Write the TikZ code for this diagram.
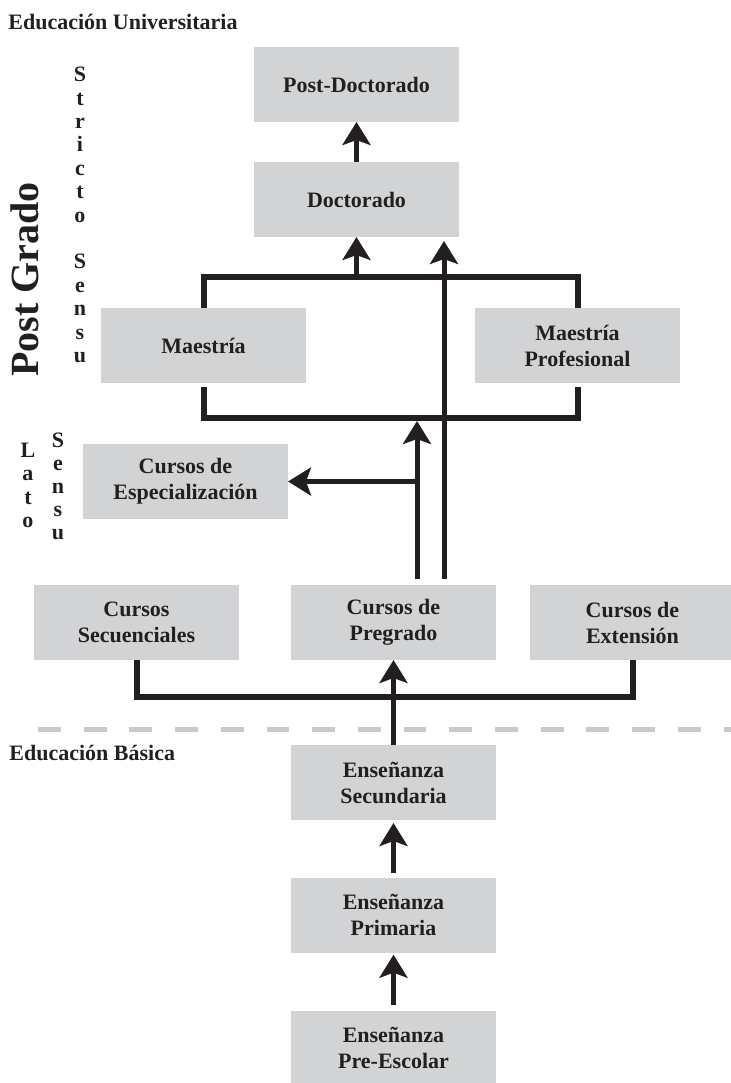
\documentclass[tikz,border=0pt]{standalone}
\usepackage{fontspec}
\setmainfont{Liberation Serif}
\usetikzlibrary{arrows.meta}
\definecolor{eduInk}{HTML}{231F20}
\definecolor{eduBox}{HTML}{D1D3D4}
\definecolor{eduDash}{HTML}{C9CACC}
\tikzset{
  edu box/.style={fill=eduBox, text=eduInk, minimum width=102.5pt, minimum height=37.5pt, inner sep=0pt, outer sep=0pt, align=center, font=\fontsize{11}{13}\selectfont\bfseries},
  edu label/.style={text=eduInk, inner sep=0pt, anchor=base west, font=\fontsize{11}{13}\selectfont\bfseries},
  edu letter/.style={text=eduInk, inner sep=0pt, anchor=base, font=\fontsize{11}{13}\selectfont\bfseries},
  edu arrow/.style={draw=eduInk, line width=2.5pt, -{Stealth[length=11.5pt, width=14pt, inset=2.5pt]}},
  edu bracket/.style={draw=eduInk, line width=3pt},
  edu split/.style={draw=eduDash, line width=2.85pt, dash pattern=on 11.4pt off 11.45pt},
}

\begin{document}
\begin{tikzpicture}[x=0.5pt, y=-0.5pt]
  \useasboundingbox (0,0) rectangle (730,1083);

  % Educacion Universitaria: side labels
  \node[edu label] (univ) at (8,29.3) {Educación Universitaria};
  \node[edu letter, font=\fontsize{20}{24}\selectfont\bfseries, rotate=90] (postgrado) at (39,279.5) {Post Grado};
  \foreach \ch [count=\k from 0] in {S,t,r,i,c,t,o} {
    \node[edu letter] (stricto\k) at (80,81.7+23.4*\k) {\ch};
  }
  \foreach \ch [count=\k from 8] in {S,e,n,s,u} {
    \node[edu letter] (ssensu\k) at (80,81.7+23.4*\k) {\ch};
  }
  \foreach \ch [count=\k from 0] in {L,a,t,o} {
    \node[edu letter] (lato\k) at (28,457+23.6*\k) {\ch};
  }
  \foreach \ch [count=\k from 0] in {S,e,n,s,u} {
    \node[edu letter] (lsensu\k) at (58,447+23*\k) {\ch};
  }

  % Post grado boxes
  \node[edu box] (postdoc) at (356.5,84.5) {Post-Doctorado};
  \node[edu box] (doct) at (356.5,199.5) {Doctorado};
  \node[edu box] (maest) at (203.5,345.5) {Maestría};
  \node[edu box] (maestprof) at (577.5,345.5) {Maestría\\Profesional};
  \node[edu box] (espec) at (185.5,481.5) {Cursos de\\Especialización};

  % Grado boxes
  \node[edu box] (secuen) at (136.5,622.5) {Cursos\\Secuenciales};
  \node[edu box] (pregr) at (393.5,622.5) {Cursos de\\Pregrado};
  \node[edu box] (exten) at (632.5,622.5) {Cursos de\\Extensión};

  % Educacion Basica
  \draw[edu split] (38,729.5) -- (745,729.5);
  \node[edu label] (basica) at (9,760) {Educación Básica};
  \node[edu box] (secund) at (393.5,782.5) {Enseñanza\\Secundaria};
  \node[edu box] (prim) at (393.5,915.2) {Enseñanza\\Primaria};
  \node[edu box] (preesc) at (393.5,1048) {Enseñanza\\Pre-Escolar};

  \coordinate (topbar) at (390,277);
  \coordinate (midbar) at (390,418);
  \coordinate (lowbar) at (390,696.7);
  \coordinate (pgA) at (417,579);
  \coordinate (pgB) at (444,579);
  \coordinate (midjoin) at (417,421);

  % connectors
  \draw[edu arrow] (doct) -- (postdoc);
  \draw[edu bracket] (maest.north) |- (topbar) -| (maestprof.north);
  \draw[edu bracket, shorten <=2pt, shorten >=2pt] (maest.south) |- (midbar) -| (maestprof.south);
  \draw[edu arrow] (topbar -| doct.south) -- (doct.south);
  \draw[edu arrow] (pgA) -- (midjoin);
  \draw[edu arrow, shorten >=2pt] (pgB) -- (pgB |- doct.south);
  \draw[edu arrow] (pgA |- espec.east) -- (espec.east);
  \draw[edu bracket] (secuen.south) |- (lowbar) -| (exten.south);
  \draw[edu arrow] (secund) -- (pregr);
  \draw[edu arrow, shorten <=2.5pt, shorten >=1.5pt] (prim) -- (secund);
  \draw[edu arrow, shorten <=3pt, shorten >=1pt] (preesc) -- (prim);
\end{tikzpicture}
\end{document}
